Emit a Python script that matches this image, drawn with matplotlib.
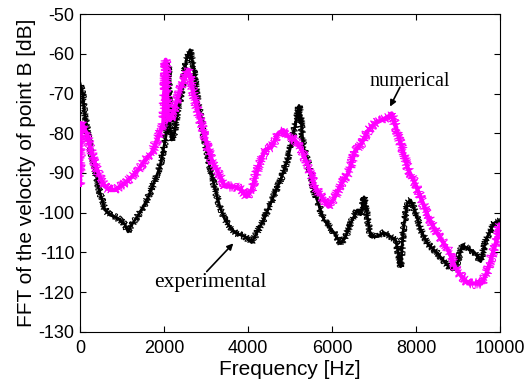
import matplotlib
matplotlib.use("Agg")
import matplotlib.pyplot as plt

# experimental curve (black)
exp_freq = [0, 60, 119, 238, 357, 476, 595, 714, 833, 952, 1071, 1143, 1200,
            1310, 1468, 1627, 1786, 1905, 1984, 2060, 2103, 2140, 2183, 2250,
            2330, 2400, 2540, 2619, 2700, 2778, 2937, 3095, 3214, 3330, 3452,
            3570, 3690, 3800, 3929, 4087, 4246, 4405, 4603, 4802, 4960, 5119,
            5214, 5260, 5317, 5436, 5571, 5700, 5810, 6048, 6206, 6325, 6444,
            6603, 6683, 6762, 6841, 6921, 7079, 7238, 7397, 7516, 7595, 7635,
            7698, 7794, 7873, 7992, 8111, 8270, 8508, 8706, 8865, 8984, 9103,
            9222, 9381, 9540, 9659, 9857, 10000]
exp_db = [-67.4, -70.0, -75.8, -83.4, -89.2, -95.0, -99.3, -100.6, -101.0,
          -101.8, -103.0, -104.8, -103.5, -101.8, -99.3, -96.0, -91.8, -88.4,
          -84.2, -80.0, -62.4, -78.0, -81.7, -80.0, -74.0, -70.8, -61.1, -59.0,
          -63.0, -70.0, -80.0, -88.4, -94.0, -98.5, -101.8, -103.5, -105.0,
          -105.5, -106.0, -107.5, -104.3, -101.0, -96.0, -91.0, -85.9, -78.3,
          -73.0, -76.0, -83.4, -87.6, -94.5, -98.5, -101.8, -105.0, -107.7,
          -106.0, -102.6, -99.3, -100.5, -96.0, -101.0, -106.0, -106.0,
          -105.0, -106.0, -106.9, -111.0, -113.6, -104.3, -97.6, -96.8,
          -100.0, -104.3, -107.7, -110.2, -112.7, -114.4, -112.7, -108.1,
          -109.0, -109.8, -112.3, -106.9, -102.6, -102.0]

# numerical curve (magenta)
num_freq = [0, 20, 40, 159, 238, 357, 476, 595, 714, 833, 952, 1071, 1230,
            1389, 1548, 1706, 1865, 1984, 2040, 2090, 2143, 2262, 2381, 2500,
            2579, 2698, 2817, 2976, 3135, 3294, 3452, 3690, 3849, 3968, 4087,
            4246, 4405, 4563, 4722, 4841, 4960, 5119, 5278, 5436, 5595, 5754,
            5913, 6071, 6230, 6389, 6548, 6706, 6865, 7024, 7183, 7341, 7421,
            7540, 7659, 7817, 7976, 8135, 8294, 8452, 8611, 8770, 8929, 9087,
            9246, 9405, 9563, 9683, 9802, 9921, 10000]
num_db = [-93.0, -78.0, -77.5, -80.0, -83.4, -87.6, -91.0, -93.4, -94.3,
          -94.3, -93.4, -92.6, -91.0, -89.2, -86.7, -85.0, -80.9, -77.5,
          -61.5, -76.0, -76.7, -73.3, -69.1, -65.8, -64.0, -70.0, -75.0,
          -80.9, -86.7, -90.0, -93.4, -93.4, -94.3, -96.0, -94.3, -88.4,
          -84.2, -83.4, -80.0, -79.2, -80.9, -81.7, -84.2, -88.4, -93.4,
          -96.0, -98.5, -96.0, -92.6, -90.0, -84.5, -82.5, -79.2, -77.5,
          -76.7, -75.8, -75.0, -79.2, -83.4, -89.2, -92.6, -96.8, -101.0,
          -104.3, -106.9, -109.4, -113.6, -116.1, -117.8, -117.8, -117.8,
          -115.2, -111.0, -106.9, -103.0]

x_ticks = [0, 2000, 4000, 6000, 8000, 10000]
y_ticks = [-130, -120, -110, -100, -90, -80, -70, -60, -50]

SANS = "Liberation Sans"
SERIF = "Liberation Serif"
MAGENTA = "#FF00FF"

plt.rcParams["axes.unicode_minus"] = False

fig = plt.figure(figsize=(5.28, 3.85), dpi=100)
ax = fig.add_axes([0.1515, 0.1377, 0.7955, 0.8259])

# noisy spectra: solid core line plus sketchy thin lines for the jitter
for freq, db, col, lw, amp, z in [(exp_freq, exp_db, "black", 2.0, 3.5, 2),
                                  (num_freq, num_db, MAGENTA, 3.0, 5.0, 3)]:
    ax.plot(freq, db, color=col, linewidth=lw, zorder=z)
    for k in range(2):
        line, = ax.plot(freq, db, color=col, linewidth=0.7, zorder=z)
        line.set_sketch_params(scale=amp, length=1.0 + k, randomness=6.0)

ax.annotate("", xy=(7381, -73.3), xytext=(7619, -68.4),
            arrowprops=dict(arrowstyle="-|>", color="black", lw=1.2,
                            mutation_scale=9, shrinkA=0, shrinkB=0), zorder=5)
ax.text(7857, -68.2, "numerical", family=SERIF, fontsize=14.5,
        ha="center", va="baseline", zorder=5)

ax.annotate("", xy=(3650, -107.7), xytext=(3017, -114.8),
            arrowprops=dict(arrowstyle="-|>", color="black", lw=1.2,
                            mutation_scale=9, shrinkA=0, shrinkB=0), zorder=5)
ax.text(3107, -118.6, "experimental", family=SERIF, fontsize=15.5,
        ha="center", va="baseline", zorder=5)

ax.set_xlim(0, 10000)
ax.set_ylim(-130, -50)
ax.set_xticks(x_ticks)
ax.set_yticks(y_ticks)
ax.tick_params(direction="in", top=True, right=True, length=4, width=0.8,
               labelsize=13)
ax.tick_params(axis="y", pad=4)
ax.tick_params(axis="x", pad=6)
for lab in ax.get_xticklabels() + ax.get_yticklabels():
    lab.set_family(SANS)
for sp in ax.spines.values():
    sp.set_linewidth(0.8)

ax.set_xlabel("Frequency [Hz]", family=SANS, fontsize=15, labelpad=2)
ax.set_ylabel("FFT of the velocity of point B [dB]", family=SANS,
              fontsize=15, labelpad=2)

fig.savefig("out.png", dpi=100)
